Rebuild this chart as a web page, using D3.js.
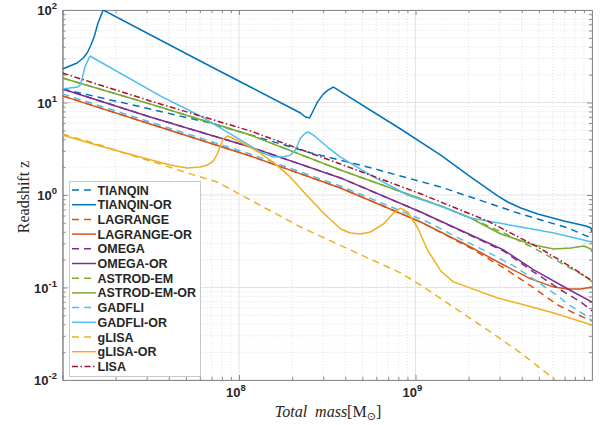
<!DOCTYPE html>
<html><head><meta charset="utf-8">
<script src="https://cdn.jsdelivr.net/npm/d3@7"></script>
<style>body{margin:0;background:#fff}svg{display:block}</style>
</head><body><svg id="c" width="609" height="425"></svg>
<script>
// ---- data (total mass in solar masses, redshift z) ----
const tianqinMass = [1.0e7,2.65e7,6.87e7,2.44e8,5.35e8,1.39e9,2.05e9,3.80e9,7.30e9,9.6e9,1.0e10];
const tianqinZ    = [14.0,9.16,6.00,2.92,2.01,1.22,0.951,0.639,0.440,0.352,0.311];
const tianqinOrMass = [1.0e7,1.10e7,1.21e7,1.31e7,1.38e7,1.45e7,1.51e7,1.59e7,1.70e7,6.03e7,1.16e8,2.23e8,2.38e8,2.51e8,2.61e8,2.78e8,3.01e8,3.21e8,3.43e8,8.23e8,1.39e9,2.05e9,2.92e9,3.33e9,3.95e9,4.93e9,6.93e9,9.24e9,9.86e9,1.0e10];
const tianqinOrZ    = [23.0,24.8,26.7,30.3,34.3,41.9,51.1,72.4,100,28.1,14.7,7.70,6.97,6.80,7.89,10.1,12.4,13.7,14.7,5.17,2.70,1.57,0.976,0.840,0.723,0.623,0.524,0.462,0.440,0.398];
const lagrangeMass = [1.0e7,3.14e7,1.16e8,3.76e8,1.07e9,2.05e9,3.16e9,4.50e9,6.40e9,8.11e9,1.0e10];
const lagrangeZ    = [11.8,5.86,2.64,1.19,0.511,0.267,0.163,0.104,0.0647,0.0517,0.0435];
const lagrangeOrMass = [1.0e7,3.14e7,1.16e8,3.76e8,1.07e9,2.05e9,3.16e9,4.50e9,6.08e9,7.30e9,8.65e9,1.0e10];
const lagrangeOrZ    = [11.8,5.86,2.64,1.19,0.511,0.274,0.175,0.124,0.101,0.0964,0.0964,0.101];
const omegaMass = [1.0e7,3.14e7,1.16e8,3.76e8,1.07e9,3.16e9,4.68e9,6.66e9,8.65e9,1.0e10];
const omegaZ    = [14.0,6.97,3.30,1.53,0.655,0.248,0.147,0.094,0.0697,0.0557];
const omegaOrMass = [1.0e7,3.14e7,1.16e8,3.76e8,1.07e9,3.16e9,4.68e9,7.30e9,1.0e10];
const omegaOrZ    = [14.0,6.97,3.30,1.53,0.655,0.254,0.155,0.0964,0.0697];
const astrodMass = [1.0e7,3.14e7,1.16e8,3.76e8,1.39e9,2.05e9,3.16e9,4.68e9,6.08e9,9.48e9,1.0e10];
const astrodZ    = [18.4,9.63,4.45,1.86,0.761,0.564,0.388,0.267,0.203,0.127,0.115];
const astrodOrMass = [1.0e7,3.14e7,1.16e8,3.76e8,1.39e9,2.05e9,3.04e9,4.68e9,6.08e9,7.59e9,9.0e9,9.86e9,1.0e10];
const astrodOrZ    = [18.4,9.63,4.45,1.86,0.761,0.564,0.379,0.288,0.261,0.267,0.281,0.261,0.242];
const gadfliMass = [1.0e7,3.14e7,1.16e8,3.76e8,1.17e9,1.80e9,2.56e9,3.60e9,4.93e9,6.40e9,7.30e9,9.48e9,1.0e10];
const gadfliZ    = [12.4,6.15,2.77,1.25,0.511,0.334,0.242,0.171,0.115,0.0810,0.0664,0.0480,0.0435];
const gadfliOrMass = [1.0e7,1.13e7,1.22e7,1.26e7,1.29e7,1.34e7,1.43e7,3.58e7,6.03e7,1.16e8,1.32e8,1.57e8,1.78e8,1.95e8,2.09e8,2.23e8,2.38e8,2.47e8,2.64e8,3.17e8,3.76e8,5.78e8,9.02e8,1.39e9,2.05e9,3.95e9,6.08e9,1.0e10];
const gadfliOrZ    = [14.0,14.4,14.7,15.5,17.9,24.2,31.8,11.8,7.15,3.39,2.92,2.57,2.57,2.70,3.06,4.13,4.68,4.80,4.45,3.30,2.57,1.57,1.00,0.761,0.564,0.451,0.388,0.311];
const glisaMass = [1.0e7,1.63e7,2.42e7,3.58e7,5.09e7,7.53e7,1.16e8,2.23e8,4.28e8,8.23e8,1.07e9,1.64e9,2.56e9,3.95e9,6.0e9,6.66e9];
const glisaZ    = [4.56,3.47,2.70,2.16,1.73,1.38,0.883,0.451,0.254,0.144,0.106,0.0615,0.0348,0.0196,0.0105,0.0086];
const glisaOrMass = [1.0e7,1.63e7,2.75e7,4.07e7,5.09e7,6.03e7,6.61e7,7.14e7,7.53e7,7.84e7,8.15e7,8.59e7,9.16e7,1.02e8,1.32e8,1.61e8,1.95e8,2.44e8,3.01e8,3.76e8,4.28e8,4.88e8,5.56e8,6.59e8,7.51e8,8.23e8,9.02e8,1.03e9,1.17e9,1.39e9,1.64e9,1.98e9,2.92e9,3.95e9,6.08e9,1.0e10];
const glisaOrZ    = [4.45,3.39,2.57,2.11,1.96,2.01,2.11,2.33,2.77,3.39,4.03,4.34,4.13,3.74,2.84,2.16,1.57,0.976,0.639,0.429,0.388,0.379,0.398,0.486,0.639,0.723,0.655,0.440,0.254,0.151,0.115,0.101,0.0770,0.0664,0.0530,0.0394];
const lisaMass = [1.0e7,3.14e7,1.16e8,3.76e8,1.07e9,1.39e9,2.56e9,4.93e9,7.59e9,1.0e10];
const lisaZ    = [20.8,10.4,4.92,2.16,1.03,0.840,0.524,0.274,0.167,0.118];

const seriesNames = ["TIANQIN","TIANQIN-OR","LAGRANGE","LAGRANGE-OR","OMEGA","OMEGA-OR","ASTROD-EM","ASTROD-EM-OR","GADFLI","GADFLI-OR","gLISA","gLISA-OR","LISA"];
const seriesMass = [tianqinMass,tianqinOrMass,lagrangeMass,lagrangeOrMass,omegaMass,omegaOrMass,astrodMass,astrodOrMass,gadfliMass,gadfliOrMass,glisaMass,glisaOrMass,lisaMass];
const seriesZ = [tianqinZ,tianqinOrZ,lagrangeZ,lagrangeOrZ,omegaZ,omegaOrZ,astrodZ,astrodOrZ,gadfliZ,gadfliOrZ,glisaZ,glisaOrZ,lisaZ];

const xTickValues = [1e8,1e9];
const xTickExp = ["8","9"];
const yTickValues = [1e2,1e1,1e0,1e-1,1e-2];
const yTickExp = ["2","1","0","-1","-2"];

// ---- styles ----
const colors = ["#0072BD","#0072BD","#D95319","#D95319","#7E2F8E","#7E2F8E","#77AC30","#77AC30","#4DBEEE","#4DBEEE","#EDB120","#EDB120","#A2142F"];
const dashes = ["7,5",null,"7,5",null,"7,5",null,"7,5",null,"7,5",null,"7,5",null,"6,2.5,1.5,2.5"];

const L = 62.5, R = 592, T = 10, B = 380;
const svg = d3.select("#c");
const x = d3.scaleLog().domain([1e7,1e10]).range([L,R]);
const y = d3.scaleLog().domain([1e-2,1e2]).range([B,T]);

const xMinor = x.ticks().filter(v => Math.abs(Math.log10(v) - Math.round(Math.log10(v))) > 1e-6);
const yMinor = y.ticks().filter(v => Math.abs(Math.log10(v) - Math.round(Math.log10(v))) > 1e-6);
const xMajorAll = [1e7,1e8,1e9,1e10];
const yMajorAll = yTickValues;

// grid
const grid = svg.append("g");
grid.selectAll(".gxm").data(xMinor).join("line")
  .attr("x1", d=>x(d)).attr("x2", d=>x(d)).attr("y1", T).attr("y2", B)
  .attr("stroke", "#d9d9d9").attr("stroke-width", 0.8).attr("stroke-dasharray", "1,2");
grid.selectAll(".gym").data(yMinor).join("line")
  .attr("y1", d=>y(d)).attr("y2", d=>y(d)).attr("x1", L).attr("x2", R)
  .attr("stroke", "#d9d9d9").attr("stroke-width", 0.8).attr("stroke-dasharray", "1,2");
grid.selectAll(".gxM").data(xMajorAll).join("line")
  .attr("x1", d=>x(d)).attr("x2", d=>x(d)).attr("y1", T).attr("y2", B)
  .attr("stroke", "#e3e3e3").attr("stroke-width", 1);
grid.selectAll(".gyM").data(yMajorAll).join("line")
  .attr("y1", d=>y(d)).attr("y2", d=>y(d)).attr("x1", L).attr("x2", R)
  .attr("stroke", "#e3e3e3").attr("stroke-width", 1);

// axes (ticks inward, box)
function styleAxis(g){ g.select(".domain").attr("stroke","#8a8a8a"); g.selectAll(".tick line").attr("stroke","#8a8a8a"); }
svg.append("g").attr("transform",`translate(0,${B})`).call(d3.axisBottom(x).tickValues(xMajorAll).tickSize(-5).tickSizeOuter(0).tickFormat("")).call(styleAxis);
svg.append("g").attr("transform",`translate(0,${B})`).call(d3.axisBottom(x).tickValues(xMinor).tickSize(-3).tickSizeOuter(0).tickFormat("")).call(styleAxis);
svg.append("g").attr("transform",`translate(0,${T})`).call(d3.axisTop(x).tickValues(xMajorAll).tickSize(-5).tickSizeOuter(0).tickFormat("")).call(styleAxis);
svg.append("g").attr("transform",`translate(0,${T})`).call(d3.axisTop(x).tickValues(xMinor).tickSize(-3).tickSizeOuter(0).tickFormat("")).call(styleAxis);
svg.append("g").attr("transform",`translate(${L},0)`).call(d3.axisLeft(y).tickValues(yMajorAll).tickSize(-5).tickSizeOuter(0).tickFormat("")).call(styleAxis);
svg.append("g").attr("transform",`translate(${L},0)`).call(d3.axisLeft(y).tickValues(yMinor).tickSize(-3).tickSizeOuter(0).tickFormat("")).call(styleAxis);
svg.append("g").attr("transform",`translate(${R},0)`).call(d3.axisRight(y).tickValues(yMajorAll).tickSize(-5).tickSizeOuter(0).tickFormat("")).call(styleAxis);
svg.append("g").attr("transform",`translate(${R},0)`).call(d3.axisRight(y).tickValues(yMinor).tickSize(-3).tickSizeOuter(0).tickFormat("")).call(styleAxis);

// tick labels
const tf = "Liberation Sans, Arial, sans-serif";
xTickValues.forEach((v,i)=>{
  const t = svg.append("text").attr("x", x(v)-3).attr("y", 397).attr("text-anchor","middle")
    .attr("font-family", tf).attr("font-size", 13).attr("font-weight","bold").attr("fill","#262626");
  t.append("tspan").text("10");
  t.append("tspan").attr("dy",-6).attr("font-size",9.5).text(xTickExp[i]);
});
yTickValues.forEach((v,i)=>{
  const t = svg.append("text").attr("x", 57).attr("y", y(v)+5).attr("text-anchor","end")
    .attr("font-family", tf).attr("font-size", 13).attr("font-weight","bold").attr("fill","#262626");
  t.append("tspan").text("10");
  t.append("tspan").attr("dy",-6).attr("font-size",9.5).text(yTickExp[i]);
});

// axis titles
svg.append("text").attr("transform","translate(29,197) rotate(-90)").attr("text-anchor","middle")
  .attr("font-family","Liberation Serif, Times New Roman, serif").attr("font-size",16).attr("fill","#262626")
  .text("Readshift z");
const xt = svg.append("text").attr("x",328).attr("y",417).attr("text-anchor","middle")
  .attr("font-family","Liberation Serif, Times New Roman, serif").attr("font-size",16).attr("fill","#262626");
xt.append("tspan").attr("font-style","italic").text("Total\u00a0\u00a0mass");
xt.append("tspan").text("[M");
xt.append("tspan").attr("font-size",11).attr("dy",3).attr("font-family","DejaVu Sans, sans-serif").text("\u2299");
xt.append("tspan").attr("dy",-3).text("]");

// curves
svg.append("clipPath").attr("id","clip").append("rect").attr("x",L).attr("y",T).attr("width",R-L).attr("height",B-T);
const line = d3.line().x(d=>x(d[0])).y(d=>y(d[1]));
const plot = svg.append("g").attr("clip-path","url(#clip)");
seriesNames.forEach((n,i)=>{
  const pts = seriesMass[i].map((m,j)=>[m, seriesZ[i][j]]);
  plot.append("path").attr("d", line(pts)).attr("fill","none")
    .attr("stroke", colors[i]).attr("stroke-width",1.5)
    .attr("stroke-dasharray", dashes[i]).attr("stroke-linejoin","round");
});

// legend
const lg = svg.append("g");
const lx = 69.5, ly = 181.5, lh = 14.7;
lg.append("rect").attr("x",lx).attr("y",ly).attr("width",131).attr("height",195)
  .attr("fill","#fff").attr("stroke","#c8c8c8").attr("stroke-width",1);
seriesNames.forEach((n,i)=>{
  const cy = 190 + i*lh;
  lg.append("line").attr("x1",72).attr("x2",96).attr("y1",cy).attr("y2",cy)
    .attr("stroke",colors[i]).attr("stroke-width",1.5).attr("stroke-dasharray",dashes[i]);
  lg.append("text").attr("x",97.5).attr("y",cy+4.5).attr("font-family",tf).attr("font-size",12.5)
    .attr("font-weight","bold").attr("fill","#262626").text(n);
});
</script></body></html>
